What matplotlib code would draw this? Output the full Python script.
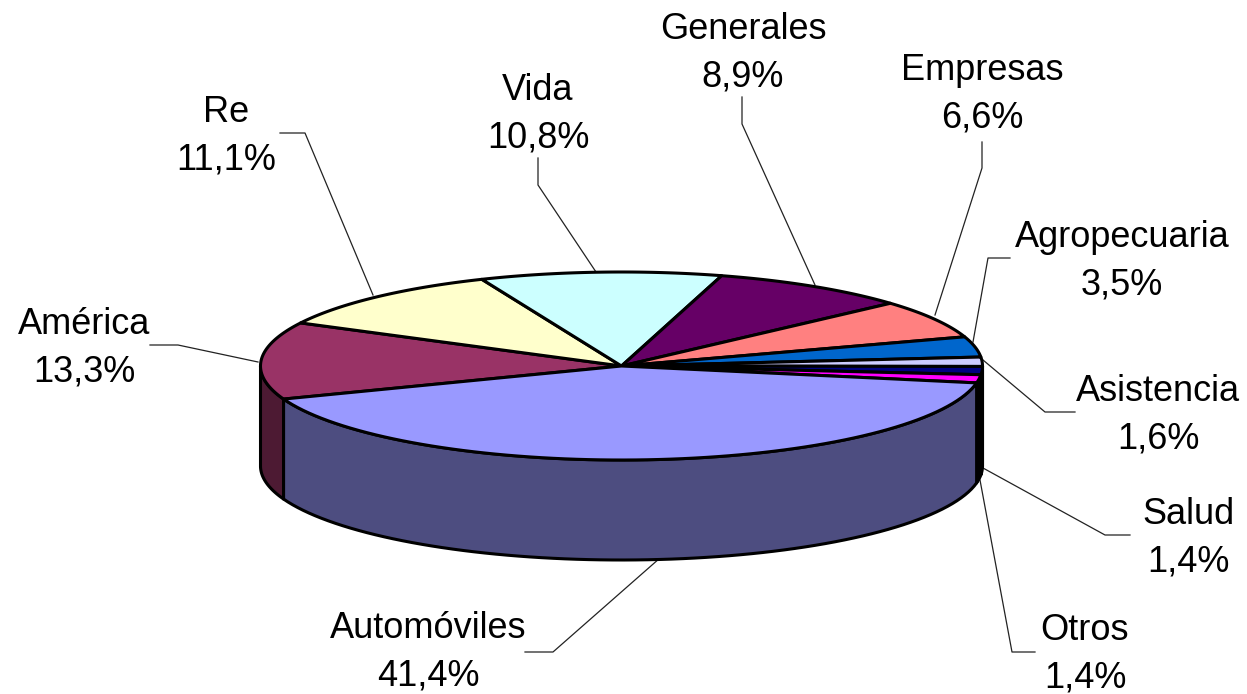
import numpy as np
import matplotlib
matplotlib.use("Agg")
import matplotlib.pyplot as plt
from matplotlib.patches import Polygon

plt.rcParams['font.family'] = ['Liberation Sans', 'DejaVu Sans']

# Data, clockwise from the front-left edge of the pie
categories = ["América", "Re", "Vida", "Generales", "Empresas", "Agropecuaria",
              "Asistencia", "Salud", "Otros", "Automóviles"]
shares = [13.3, 11.1, 10.8, 8.9, 6.6, 3.5, 1.6, 1.4, 1.4, 41.4]
share_labels = ["13,3%", "11,1%", "10,8%", "8,9%", "6,6%", "3,5%", "1,6%", "1,4%", "1,4%", "41,4%"]
top_colors = ["#993366", "#FFFFCC", "#CCFFFF", "#660066", "#FF8080", "#0066CC",
              "#CCCCFF", "#000080", "#FF00FF", "#9999FF"]
side_colors = ["#4D1A33", "#808066", "#668080", "#330033", "#804040", "#003366",
               "#666680", "#000040", "#000000", "#4D4D80"]

# Geometry in pixels
CX, CY, RX, RY, DEPTH = 621.5, 366.0, 361.0, 94.0, 100.0
START = 200.6
label_pos = [(84, 348), (226, 136), (538, 114), (743, 53), (982, 94), (1122, 261),
             (1158, 415), (1188, 538), (1085, 654), (428, 652)]
leaders = [[(150, 345), (178, 345), (258, 362)],
           [(280, 133), (305, 133), (373, 295)],
           [(538, 158), (538, 185), (596, 272)],
           [(742, 97), (742, 124), (815, 285)],
           [(982, 142), (982, 168), (935, 315)],
           [(1010, 258), (988, 258), (973, 342)],
           [(1075, 412), (1045, 412), (983, 360)],
           [(1130, 535), (1105, 535), (983, 468)],
           [(1035, 652), (1012, 652), (980, 480)],
           [(525, 652), (553, 652), (660, 558)]]


def rim(a0, a1, dy=0.0, n=80):
    t = np.radians(np.linspace(a0, a1, n))
    return np.column_stack([CX + RX * np.cos(t), CY - RY * np.sin(t) + dy])


fig = plt.figure(figsize=(12.47, 6.94), dpi=100)
ax = fig.add_axes([0, 0, 1, 1])
ax.set_xlim(0, 1247)
ax.set_ylim(694, 0)
ax.axis("off")

edges = START - np.cumsum([0] + shares) * 3.6
LW = 2.2

# Side walls of the front half
for i, (hi, lo) in enumerate(zip(edges[:-1], edges[1:])):
    # visible part: angles between 180 and 360 (mod 360)
    h, l = hi % 360, lo % 360
    if h == 0:
        h = 360
    if l > h:
        # wedge crosses 0 degrees, keep the portion below the horizon
        l, h = l, 360
    a0, a1 = max(l, 180), min(h, 360)
    if a1 <= a0:
        continue
    top = rim(a0, a1)
    bot = rim(a1, a0, DEPTH)
    ax.add_patch(Polygon(np.vstack([top, bot]), closed=True, facecolor=side_colors[i],
                         edgecolor="black", linewidth=LW, joinstyle="round", zorder=2))

# Top faces
for i, (hi, lo) in enumerate(zip(edges[:-1], edges[1:])):
    pts = np.vstack([[CX, CY], rim(hi, lo)])
    ax.add_patch(Polygon(pts, closed=True, facecolor=top_colors[i], edgecolor="black",
                         linewidth=LW, joinstyle="round", zorder=3))

# Leader lines and labels
for path, name, pct, (x, y) in zip(leaders, categories, share_labels, label_pos):
    p = np.array(path)
    ax.plot(p[:, 0], p[:, 1], color="#222222", lw=0.9, zorder=1)
    ax.text(x, y, f"{name}\n{pct}", ha="center", va="center", multialignment="center",
            fontsize=26, linespacing=1.48, color="black", zorder=5)

fig.savefig("out.png", dpi=100, facecolor="white")
